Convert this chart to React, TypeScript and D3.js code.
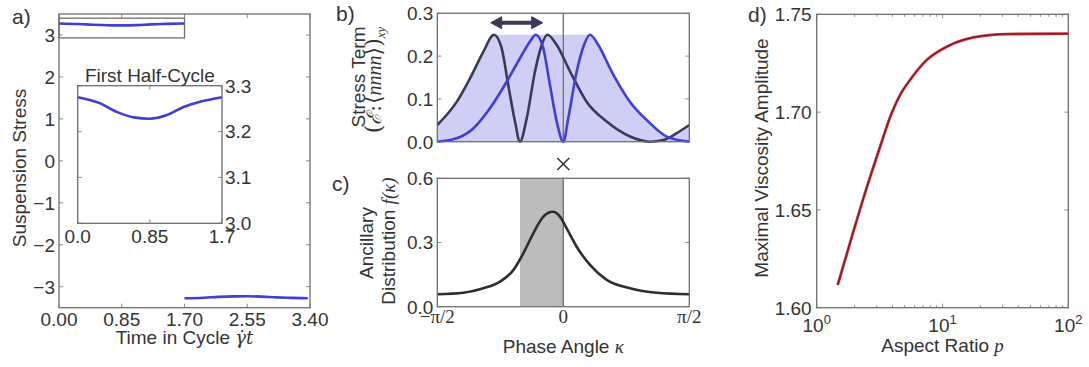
import React from 'react';
import * as d3 from 'd3';

const WIDTH = 1089;
const HEIGHT = 367;
const PI = Math.PI;

// ---------- a) suspension stress over one shear cycle ----------
const cycleTicks = [0, 0.85, 1.7, 2.55, 3.4];
const cycleTickLabels = ['0.00', '0.85', '1.70', '2.55', '3.40'];
const stressTicks = [-3, -2, -1, 0, 1, 2, 3];
const firstHalfT = [0, 0.26, 0.46, 0.66, 0.85, 1.05, 1.24, 1.44, 1.7];
const firstHalfStress = [3.275, 3.262, 3.243, 3.231, 3.228, 3.236, 3.253, 3.265, 3.275];
const secondHalfT = [1.7, 1.96, 2.16, 2.36, 2.55, 2.75, 2.94, 3.14, 3.37];
const secondHalfStress = [-3.275, -3.262, -3.243, -3.231, -3.228, -3.236, -3.253, -3.265, -3.275];
const zoomBoxT = [0, 1.7];
const zoomBoxStress = [2.93, 3.4];
const insetTTicks = [0, 0.85, 1.7];
const insetTTickLabels = ['0.0', '0.85', '1.7'];
const insetStressTicks = [3.0, 3.1, 3.2, 3.3];
const insetStressTickLabels = ['3.0', '3.1', '3.2', '3.3'];

// ---------- b) stress term against phase angle ----------
const stressTermTicks = [0, 0.1, 0.2, 0.3];
const stressTermTickLabels = ['0.0', '0.1', '0.2', '0.3'];
const startKappa = [-1.571, -1.329, -1.163, -0.997, -0.864, -0.768, -0.686, -0.602, -0.54, -0.456, -0.353, -0.269, -0.199, -0.082, 0.084, 0.292, 0.541, 0.832, 1.081, 1.247, 1.414, 1.571];
const startTerm = [0.039, 0.093, 0.148, 0.21, 0.25, 0.218, 0.132, 0.047, 0, 0.055, 0.164, 0.226, 0.25, 0.226, 0.164, 0.093, 0.047, 0.012, 0.0, 0.004, 0.02, 0.039];
const endKappa = [-1.571, -1.329, -1.122, -0.914, -0.706, -0.54, -0.415, -0.344, -0.249, -0.166, -0.082, 0, 0.062, 0.167, 0.258, 0.333, 0.436, 0.603, 0.832, 1.06, 1.289, 1.571];
const endTerm = [0, 0.008, 0.031, 0.078, 0.14, 0.195, 0.234, 0.25, 0.218, 0.132, 0.047, 0, 0.055, 0.164, 0.226, 0.25, 0.226, 0.164, 0.093, 0.047, 0.012, 0];
const shiftArrowKappa = [-0.905, -0.257];
const shiftArrowLevel = 0.278;

// ---------- c) ancillary distribution ----------
const distTicks = [0, 0.3, 0.6];
const distTickLabels = ['0.0', '0.3', '0.6'];
const distKappa = [-1.571, -1.247, -0.997, -0.789, -0.623, -0.499, -0.374, -0.249, -0.132, -0.041, 0.042, 0.167, 0.333, 0.541, 0.832, 1.165, 1.571];
const distValue = [0.058, 0.065, 0.086, 0.117, 0.171, 0.249, 0.343, 0.421, 0.444, 0.421, 0.366, 0.28, 0.195, 0.125, 0.086, 0.065, 0.058];
const bandKappa = [-0.54, 0];
const kappaTicks = [-PI / 2, 0, PI / 2];
const kappaTickLabels = ['\u2212\u03C0/2', '0', '\u03C0/2'];

// ---------- d) maximal viscosity amplitude ----------
const aspectRatio = [1.469, 1.909, 2.466, 3.128, 3.947, 4.594, 5.52, 7.49, 10.8, 17.6, 32.4, 100];
const maxAmplitude = [1.6116, 1.6366, 1.6602, 1.6806, 1.6995, 1.7087, 1.7164, 1.7266, 1.7334, 1.7382, 1.7399, 1.7401];
const ampTicks = [1.6, 1.65, 1.7, 1.75];
const ampTickLabels = ['1.60', '1.65', '1.70', '1.75'];
const decadeTicks = [1, 10, 100];
const decadeExponents = ['0', '1', '2'];

const AXIS = '#6e6e6e';
const TICK = '#8a8a8a';
const TEXT = '#333333';
const BLUE = '#3f3fd6';
const DARK = '#3a3a56';
const SANS = '"Liberation Sans", Arial, Helvetica, sans-serif';
const SERIF = '"Liberation Serif", "DejaVu Serif", serif';
const MATH = '"DejaVu Serif", "Liberation Serif", serif';
const FS = 19;

type Box = { x0: number; x1: number; y0: number; y1: number };

function Frame({ b }: { b: Box }) {
  return (
    <rect x={b.x0} y={b.y0} width={b.x1 - b.x0} height={b.y1 - b.y0}
      fill="none" stroke={AXIS} strokeWidth={1.3} />
  );
}

function Ticks({ b, xs = [], ys = [], len = 4, sides = 'lrtb' }:
  { b: Box; xs?: number[]; ys?: number[]; len?: number; sides?: string }) {
  const out: JSX.Element[] = [];
  xs.forEach((x, i) => {
    if (sides.includes('b')) out.push(<line key={'b' + i} x1={x} x2={x} y1={b.y1} y2={b.y1 - len} />);
    if (sides.includes('t')) out.push(<line key={'t' + i} x1={x} x2={x} y1={b.y0} y2={b.y0 + len} />);
  });
  ys.forEach((y, i) => {
    if (sides.includes('l')) out.push(<line key={'l' + i} x1={b.x0} x2={b.x0 + len} y1={y} y2={y} />);
    if (sides.includes('r')) out.push(<line key={'r' + i} x1={b.x1} x2={b.x1 - len} y1={y} y2={y} />);
  });
  return <g stroke={TICK} strokeWidth={1}>{out}</g>;
}

function interp(ks: number[], vs: number[], k: number) {
  if (k <= ks[0]) return vs[0];
  if (k >= ks[ks.length - 1]) return vs[vs.length - 1];
  const i = d3.bisectRight(ks, k);
  const t = (k - ks[i - 1]) / (ks[i] - ks[i - 1]);
  return vs[i - 1] + t * (vs[i] - vs[i - 1]);
}

export default function App() {
  // ---- panel a ----
  const aBox: Box = { x0: 59, x1: 310, y0: 14, y1: 307.7 };
  const ax = d3.scaleLinear().domain([0, 3.4]).range([aBox.x0, aBox.x1]);
  const ay = d3.scaleLinear().domain([-3.5, 3.5]).range([aBox.y1, aBox.y0]);
  const aLine = d3.line<[number, number]>().x(d => ax(d[0])).y(d => ay(d[1])).curve(d3.curveMonotoneX);

  const iBox: Box = { x0: 77.7, x1: 222, y0: 85.7, y1: 223.3 };
  const ix = d3.scaleLinear().domain([0, 1.7]).range([iBox.x0, iBox.x1]);
  const iy = d3.scaleLinear().domain([3.0, 3.3]).range([iBox.y1, iBox.y0]);
  const iLine = d3.line<[number, number]>().x(d => ix(d[0])).y(d => iy(d[1])).curve(d3.curveMonotoneX);

  const firstPts = firstHalfT.map((t, i) => [t, firstHalfStress[i]] as [number, number]);
  const secondPts = secondHalfT.map((t, i) => [t, secondHalfStress[i]] as [number, number]);

  // ---- panel b ----
  const bBox: Box = { x0: 437.3, x1: 689.3, y0: 13.3, y1: 141.7 };
  const kx = d3.scaleLinear().domain([-PI / 2, PI / 2]).range([bBox.x0, bBox.x1]);
  const by = d3.scaleLinear().domain([0, 0.3]).range([bBox.y1, bBox.y0]);
  const bLine = d3.line<[number, number]>().x(d => kx(d[0])).y(d => by(d[1])).curve(d3.curveMonotoneX);
  const startPts = startKappa.map((k, i) => [k, startTerm[i]] as [number, number]);
  const endPts = endKappa.map((k, i) => [k, endTerm[i]] as [number, number]);

  // envelope swept by the curve as it moves from the start to the end position
  const startPeak = d3.maxIndex(startTerm);
  const endPeak = endTerm.lastIndexOf(d3.max(endTerm) as number);
  const envelope: [number, number][] = [
    ...startPts.filter((_, i) => i <= startPeak),
    ...endPts.filter((p, i) => i >= endPeak && p[1] >= interp(startKappa, startTerm, p[0])),
    ...startPts.filter(p => p[0] > endKappa[endPeak] && p[1] > interp(endKappa, endTerm, p[0])),
  ].sort((a, b) => a[0] - b[0]);
  const envArea = d3.area<[number, number]>().x(d => kx(d[0])).y0(by(0)).y1(d => by(d[1])).curve(d3.curveMonotoneX);

  // ---- panel c ----
  const cBox: Box = { x0: 437.3, x1: 689.3, y0: 178.3, y1: 306.7 };
  const cy = d3.scaleLinear().domain([0, 0.6]).range([cBox.y1, cBox.y0]);
  const cLine = d3.line<[number, number]>().x(d => kx(d[0])).y(d => cy(d[1])).curve(d3.curveMonotoneX);
  const distPts = distKappa.map((k, i) => [k, distValue[i]] as [number, number]);

  // ---- panel d ----
  const dBox: Box = { x0: 816.7, x1: 1068.3, y0: 14.3, y1: 307.7 };
  const px = d3.scaleLog().domain([1, 100]).range([dBox.x0, dBox.x1]);
  const dy = d3.scaleLinear().domain([1.6, 1.75]).range([dBox.y1, dBox.y0]);
  const dLine = d3.line<[number, number]>().x(d => px(d[0])).y(d => dy(d[1])).curve(d3.curveMonotoneX);
  const ampPts = aspectRatio.map((p, i) => [p, maxAmplitude[i]] as [number, number]);
  const minorTicks: number[] = [];
  [1, 10].forEach(dec => { for (let m = 2; m <= 9; m++) minorTicks.push(dec * m); });

  const xMark = { x: kx(0), y: 164, r: 6 };
  const arrowY = by(shiftArrowLevel);
  const ax0 = kx(shiftArrowKappa[0]);
  const ax1 = kx(shiftArrowKappa[1]);

  return (
    <svg width={WIDTH} height={HEIGHT} viewBox={`0 0 ${WIDTH} ${HEIGHT}`}
      style={{ position: 'absolute', left: 0, top: 0, background: '#fff' }}
      fontFamily={SANS} fill={TEXT}>
      <rect x={0} y={0} width={WIDTH} height={HEIGHT} fill="#fff" />

      {/* ================= a ================= */}
      <text x={12} y={24} fontSize={21}>a)</text>
      <Ticks b={aBox} xs={cycleTicks.map(ax)} ys={stressTicks.map(ay)} />
      <rect x={ax(zoomBoxT[0])} y={ay(zoomBoxStress[1])} width={ax(zoomBoxT[1]) - ax(zoomBoxT[0])}
        height={ay(zoomBoxStress[0]) - ay(zoomBoxStress[1])} fill="none" stroke={AXIS} strokeWidth={1.3} />
      <path d={aLine(firstPts) || ''} fill="none" stroke={BLUE} strokeWidth={2.6} />
      <path d={aLine(secondPts) || ''} fill="none" stroke={BLUE} strokeWidth={2.6} />
      <Frame b={aBox} />
      {stressTicks.map(v => (
        <text key={v} x={aBox.x0 - 4} y={ay(v)} dy="0.36em" textAnchor="end" fontSize={FS}>
          {v < 0 ? '\u2212' + Math.abs(v) : String(v)}
        </text>
      ))}
      {cycleTicks.map((v, i) => (
        <text key={v} x={ax(v)} y={aBox.y1 + 18} textAnchor="middle" fontSize={FS}>{cycleTickLabels[i]}</text>
      ))}
      <text x={(aBox.x0 + aBox.x1) / 2} y={344} textAnchor="middle" fontSize={FS}>
        Time in Cycle <tspan fontFamily={MATH} fontStyle="italic" fontSize={18}>{'\u03B3\u0307t'}</tspan>
      </text>
      <text transform={`translate(26,168) rotate(-90)`} textAnchor="middle" fontSize={FS}>Suspension Stress</text>

      {/* inset: first half-cycle */}
      <rect x={iBox.x0} y={iBox.y0} width={iBox.x1 - iBox.x0} height={iBox.y1 - iBox.y0} fill="#fff" />
      <Ticks b={iBox} xs={insetTTicks.map(ix)} ys={insetStressTicks.map(iy)} />
      <path d={iLine(firstPts) || ''} fill="none" stroke={BLUE} strokeWidth={2.6} />
      <Frame b={iBox} />
      <text x={(iBox.x0 + iBox.x1) / 2} y={81.5} textAnchor="middle" fontSize={FS}>First Half-Cycle</text>
      {insetStressTicks.map((v, i) => (
        <text key={v} x={iBox.x1 + 3} y={iy(v)} dy="0.36em" fontSize={FS}>{insetStressTickLabels[i]}</text>
      ))}
      {insetTTicks.map((v, i) => (
        <text key={v} x={ix(v)} y={iBox.y1 + 20} textAnchor="middle" fontSize={FS}>{insetTTickLabels[i]}</text>
      ))}

      {/* ================= b ================= */}
      <text x={336} y={21} fontSize={21}>b)</text>
      <path d={envArea(envelope) || ''} fill={BLUE} fillOpacity={0.25} stroke="none" />
      <line x1={kx(0)} x2={kx(0)} y1={bBox.y0} y2={bBox.y1} stroke={AXIS} strokeWidth={1.3} />
      <Ticks b={bBox} ys={stressTermTicks.map(by)} sides="lr" />
      <path d={bLine(startPts) || ''} fill="none" stroke={DARK} strokeWidth={2.6} />
      <path d={bLine(endPts) || ''} fill="none" stroke={BLUE} strokeWidth={2.6} />
      <Frame b={bBox} />
      {/* double arrow for the phase shift */}
      <g fill={DARK} stroke={DARK}>
        <line x1={ax0 + 8} x2={ax1 - 8} y1={arrowY} y2={arrowY} strokeWidth={4} />
        <path d={`M${ax0},${arrowY} L${ax0 + 11},${arrowY - 6} L${ax0 + 11},${arrowY + 6} Z`} strokeWidth={1} />
        <path d={`M${ax1},${arrowY} L${ax1 - 11},${arrowY - 6} L${ax1 - 11},${arrowY + 6} Z`} strokeWidth={1} />
      </g>
      {stressTermTicks.map((v, i) => (
        <text key={v} x={bBox.x0 - 4} y={by(v)} dy="0.36em" textAnchor="end" fontSize={FS}>{stressTermTickLabels[i]}</text>
      ))}
      <text transform={`translate(365,77) rotate(-90)`} textAnchor="middle" fontSize={FS}>Stress Term</text>
      <text transform={`translate(381,80) rotate(-90)`} textAnchor="middle" fontSize={20} fontFamily={MATH}>
        <tspan fontSize={22}>(</tspan>
        <tspan fontStyle="italic">{'\u2130'}</tspan>
        <tspan dx={1}>:</tspan>
        <tspan fontSize={22} dx={1}>{'\u27E8'}</tspan>
        <tspan fontStyle="italic" fontFamily={SERIF}>nnnn</tspan>
        <tspan fontSize={22}>{'\u27E9'}</tspan>
        <tspan fontSize={22}>)</tspan>
        <tspan fontStyle="italic" fontFamily={SERIF} fontSize={13} dy={4}>xy</tspan>
      </text>

      {/* ================= c ================= */}
      <text x={332} y={191} fontSize={21}>c)</text>
      <rect x={kx(bandKappa[0])} y={cBox.y0} width={kx(bandKappa[1]) - kx(bandKappa[0])}
        height={cBox.y1 - cBox.y0} fill="#bcbcbc" />
      <line x1={kx(0)} x2={kx(0)} y1={cBox.y0} y2={cBox.y1} stroke={AXIS} strokeWidth={1.3} />
      <Ticks b={cBox} ys={distTicks.map(cy)} sides="lr" />
      <path d={cLine(distPts) || ''} fill="none" stroke="#2e2e2e" strokeWidth={2.6} />
      <Frame b={cBox} />
      <g stroke={TEXT} strokeWidth={1.5}>
        <line x1={xMark.x - xMark.r} x2={xMark.x + xMark.r} y1={xMark.y - xMark.r} y2={xMark.y + xMark.r} />
        <line x1={xMark.x - xMark.r} x2={xMark.x + xMark.r} y1={xMark.y + xMark.r} y2={xMark.y - xMark.r} />
      </g>
      {distTicks.map((v, i) => (
        <text key={v} x={cBox.x0 - 4} y={cy(v)} dy="0.36em" textAnchor="end" fontSize={FS}>{distTickLabels[i]}</text>
      ))}
      {kappaTicks.map((v, i) => (
        <text key={i} x={kx(v)} y={cBox.y1 + 16} textAnchor="middle" fontSize={FS} fontFamily={SERIF}>{kappaTickLabels[i]}</text>
      ))}
      <text x={(cBox.x0 + cBox.x1) / 2} y={353} textAnchor="middle" fontSize={FS}>
        Phase Angle <tspan fontFamily={SERIF} fontStyle="italic">{'\u03BA'}</tspan>
      </text>
      <text transform={`translate(373,243) rotate(-90)`} textAnchor="middle" fontSize={FS}>Ancillary</text>
      <text transform={`translate(395,241) rotate(-90)`} textAnchor="middle" fontSize={FS}>
        Distribution <tspan fontFamily={SERIF} fontStyle="italic">{'f(\u03BA)'}</tspan>
      </text>

      {/* ================= d ================= */}
      <text x={748} y={22} fontSize={21}>d)</text>
      <Ticks b={dBox} xs={decadeTicks.map(px)} ys={ampTicks.map(dy)} />
      <Ticks b={dBox} xs={minorTicks.map(px)} len={2.5} sides="tb" />
      <path d={dLine(ampPts) || ''} fill="none" stroke="#c0303a" strokeWidth={2.8} />
      <path d={dLine(ampPts) || ''} fill="none" stroke="#5a1418" strokeWidth={0.8} />
      <Frame b={dBox} />
      {ampTicks.map((v, i) => (
        <text key={v} x={dBox.x0 - 5} y={dy(v)} dy="0.36em" textAnchor="end" fontSize={FS}>{ampTickLabels[i]}</text>
      ))}
      {decadeTicks.map((v, i) => (
        <text key={v} x={px(v)} y={dBox.y1 + 24} textAnchor="middle" fontSize={FS}>
          10<tspan fontSize={13} dy={-8}>{decadeExponents[i]}</tspan>
        </text>
      ))}
      <text x={(dBox.x0 + dBox.x1) / 2} y={352} textAnchor="middle" fontSize={FS}>
        Aspect Ratio <tspan fontFamily={SERIF} fontStyle="italic">p</tspan>
      </text>
      <text transform={`translate(768,158) rotate(-90)`} textAnchor="middle" fontSize={FS}>Maximal Viscosity Amplitude</text>
    </svg>
  );
}
